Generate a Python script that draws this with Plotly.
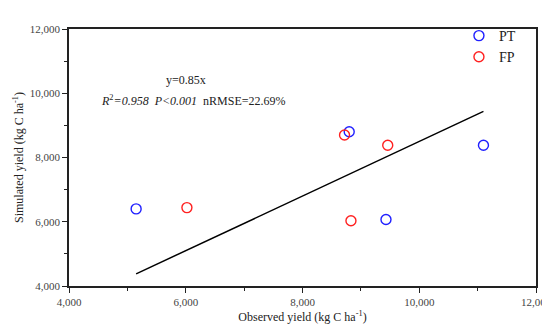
import plotly.graph_objects as go

pt_obs = [5150, 8800, 9430, 11100]
pt_sim = [6400, 8800, 6070, 8380]
fp_obs = [6020, 8720, 9460, 8830]
fp_sim = [6440, 8700, 8380, 6030]
slope = 0.85
fit_x = [min(pt_obs + fp_obs), max(pt_obs + fp_obs)]
fit_y = [slope * v for v in fit_x]

FONT = "Liberation Serif, Times New Roman, serif"

fig = go.Figure()
fig.add_trace(go.Scatter(x=fit_x, y=fit_y, mode="lines", line=dict(color="black", width=1.5),
                         showlegend=False, hoverinfo="skip"))
fig.add_trace(go.Scatter(x=pt_obs, y=pt_sim, mode="markers", name="PT",
                         marker=dict(symbol="circle-open", size=10, color="#1f1fff", line=dict(width=1.4))))
fig.add_trace(go.Scatter(x=fp_obs, y=fp_sim, mode="markers", name="FP",
                         marker=dict(symbol="circle-open", size=10, color="#ff2020", line=dict(width=1.4))))

axis_common = dict(showgrid=False, zeroline=False, showline=True, linecolor="#222", linewidth=1.5,
                   mirror=True, ticks="outside", ticklen=5, tickwidth=1.2, tickcolor="#222",
                   tickformat=",d", tickfont=dict(family=FONT, size=11, color="#444"),
                   automargin=False,
                   minor=dict(ticks="outside", ticklen=3, tickwidth=1.2, tickcolor="#222", dtick=1000))

fig.update_xaxes(range=[4000, 12000], dtick=2000,
                 title=dict(text="Observed yield (kg C ha<sup>-1</sup>)", font=dict(family=FONT, size=12, color="#222"), standoff=6),
                 **axis_common)
fig.update_yaxes(range=[4000, 12000], dtick=2000,
                 title=dict(text="Simulated yield (kg C ha<sup>-1</sup>)", font=dict(family=FONT, size=12, color="#222"), standoff=4),
                 **axis_common)

fig.add_annotation(x=6000, y=10400, xref="x", yref="y", text="y=0.85x", showarrow=False,
                   font=dict(family=FONT, size=12, color="#222"))
fig.add_annotation(x=4510, y=9780, xref="x", yref="y", xanchor="left",
                   text="<i>R</i><sup>2</sup><i>=0.958  P&lt;0.001</i>  nRMSE=22.69%", showarrow=False,
                   font=dict(family=FONT, size=12, color="#222"))

fig.update_layout(
    width=550, height=327,
    margin=dict(l=61, r=22, t=14, b=49),
    paper_bgcolor="white", plot_bgcolor="white",
    legend=dict(x=0.835, y=1.035, xanchor="left", yanchor="top", bgcolor="rgba(0,0,0,0)",
                font=dict(family=FONT, size=14, color="#222"), tracegroupgap=0),
)

fig.write_html("out.html")
